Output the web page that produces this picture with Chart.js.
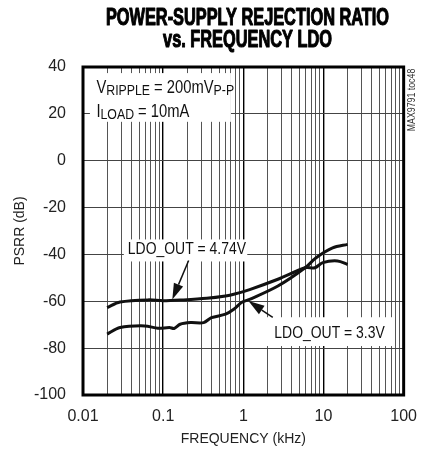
<!DOCTYPE html>
<html>
<head>
<meta charset="utf-8">
<script src="https://cdn.jsdelivr.net/npm/chart.js@4.4.1/dist/chart.umd.min.js"></script>
<style>
  html, body { margin: 0; padding: 0; background: #fff; }
  #wrap { width: 429px; height: 459px; }
</style>
</head>
<body>
<div id="wrap"><canvas id="myChart" width="429" height="459"></canvas></div>
<script>
// values (frequency in kHz, PSRR in dB)
var freq474 = [0.02, 0.029, 0.065, 0.1, 0.18, 0.35, 0.6, 0.76, 1.2, 2.7, 5.9, 7.8, 9.8, 15, 20];
var psrr474 = [-62.7, -60.3, -59.4, -59.8, -59.4, -58.7, -57.7, -57, -55, -50.6, -45.7, -45.7, -43.5, -42.8, -44.3];

var freq33 = [0.02, 0.029, 0.059, 0.086, 0.12, 0.137, 0.163, 0.22, 0.32, 0.4, 0.6, 0.76, 0.96, 1.22, 2.7, 5.9, 8.1, 13, 20];
var psrr33 = [-74, -71.2, -70.5, -71.5, -71.2, -71.6, -69.8, -69.1, -69.1, -67, -65.5, -63.4, -60.4, -59.1, -53.5, -45.7, -41.4, -37.2, -35.7];

var xTickLabels = ['0.01', '0.1', '1', '10', '100'];
var yTickValues = [40, 20, 0, -20, -40, -60, -80, -100];

var FONT = '"Liberation Sans", Arial, sans-serif';
var NARROW = 0.82; // the original uses a condensed face, squeeze our own text to match
Chart.defaults.font.family = FONT;
Chart.defaults.color = '#222';

function toPoints(xs, ys) {
    var pts = [];
    for (var i = 0; i < xs.length; i++) pts.push({x: xs[i], y: ys[i]});
    return pts;
}

function isDecade(v) {
    var l = Math.log10(v);
    return Math.abs(l - Math.round(l)) < 1e-9;
}

// text squeezed horizontally, drawn around (x, y)
function squeezed(ctx, text, x, y, sx, heavy) {
    ctx.save();
    ctx.translate(x, y);
    ctx.scale(sx, 1);
    if (heavy) {
        ctx.lineWidth = heavy;
        ctx.lineJoin = 'round';
        ctx.strokeStyle = ctx.fillStyle;
        ctx.strokeText(text, 0, 0);
    }
    ctx.fillText(text, 0, 0);
    ctx.restore();
}

// text made of runs, some of them subscript
function drawRuns(ctx, runs, x, y) {
    runs.forEach(function(r) {
        ctx.font = r.size + 'px ' + FONT;
        squeezed(ctx, r.t, x, y + (r.dy || 0), NARROW);
        x += ctx.measureText(r.t).width * NARROW;
    });
}

function arrow(ctx, x1, y1, x2, y2) {
    var a = Math.atan2(y2 - y1, x2 - x1);
    var len = 16, w = 5;
    var bx = x2 - Math.cos(a) * len, by = y2 - Math.sin(a) * len;
    ctx.beginPath();
    ctx.moveTo(x1, y1);
    ctx.lineTo(bx, by);
    ctx.lineWidth = 1.5;
    ctx.stroke();
    ctx.beginPath();
    ctx.moveTo(x2, y2);
    ctx.lineTo(bx + Math.sin(a) * w, by - Math.cos(a) * w);
    ctx.lineTo(bx - Math.sin(a) * w, by + Math.cos(a) * w);
    ctx.closePath();
    ctx.fill();
}

var annotations = {
    id: 'annotations',
    beforeDatasetsDraw: function(chart) {
        var ctx = chart.ctx, x = chart.scales.x, y = chart.scales.y;
        function box(f1, f2, d1, d2) {
            var px1 = x.getPixelForValue(f1), px2 = x.getPixelForValue(f2);
            var py1 = y.getPixelForValue(d1), py2 = y.getPixelForValue(d2);
            ctx.fillRect(px1, py1, px2 - px1, py2 - py1);
        }
        ctx.save();
        ctx.fillStyle = '#fff';
        box(0.0122, 0.7, 37.4, 16.6);
        box(0.0323, 1.12, -33.6, -43);
        box(1.95, 73.6, -66.8, -79.1);
        ctx.restore();
    },
    afterDatasetsDraw: function(chart) {
        var ctx = chart.ctx, x = chart.scales.x, y = chart.scales.y;
        var a = chart.chartArea;
        ctx.save();
        ctx.fillStyle = '#111';
        ctx.strokeStyle = '#111';
        ctx.textBaseline = 'alphabetic';
        ctx.textAlign = 'left';

        drawRuns(ctx, [{t: 'V', size: 18}, {t: 'RIPPLE', size: 15, dy: 2}, {t: ' = 200mV', size: 18}, {t: 'P-P', size: 15, dy: 2}],
            x.getPixelForValue(0.0147), y.getPixelForValue(28.9));
        drawRuns(ctx, [{t: 'I', size: 18}, {t: 'LOAD', size: 15, dy: 2}, {t: ' = 10mA', size: 18}],
            x.getPixelForValue(0.0147), y.getPixelForValue(18.7));

        ctx.textAlign = 'center';
        ctx.textBaseline = 'alphabetic';
        ctx.font = '17px ' + FONT;
        squeezed(ctx, 'LDO_OUT = 4.74V', x.getPixelForValue(0.198), y.getPixelForValue(-40), NARROW);
        squeezed(ctx, 'LDO_OUT = 3.3V', x.getPixelForValue(11.9), y.getPixelForValue(-75.8), NARROW);

        arrow(ctx, x.getPixelForValue(0.208), y.getPixelForValue(-42.6), x.getPixelForValue(0.13), y.getPixelForValue(-59.2));
        arrow(ctx, x.getPixelForValue(2.33), y.getPixelForValue(-66.9), x.getPixelForValue(1.16), y.getPixelForValue(-59.9));

        // plot frame
        ctx.lineWidth = 3;
        ctx.strokeStyle = '#000';
        ctx.strokeRect(a.left, a.top, a.right - a.left, a.bottom - a.top);

        // figure id, rotated
        ctx.save();
        ctx.translate(a.right + 9, a.top + 33);
        ctx.rotate(-Math.PI / 2);
        ctx.textBaseline = 'middle';
        ctx.font = '10px ' + FONT;
        ctx.fillStyle = '#333';
        squeezed(ctx, 'MAX9791 toc48', 0, 0, 0.88);
        ctx.restore();

        // title, heavy and condensed
        ctx.fillStyle = '#000';
        ctx.textBaseline = 'alphabetic';
        ctx.textAlign = 'center';
        ctx.font = 'bold 23px ' + FONT;
        squeezed(ctx, 'POWER-SUPPLY REJECTION RATIO', 247.5, 25, 0.71, 1.1);
        squeezed(ctx, 'vs. FREQUENCY LDO', 247.5, 47, 0.71, 1.1);
        ctx.restore();
    }
};

var ctx = document.getElementById('myChart').getContext('2d');
var chart = new Chart(ctx, {
    type: 'line',
    data: {
        datasets: [
            {
                label: 'LDO_OUT = 4.74V',
                data: toPoints(freq474, psrr474),
                borderColor: '#111',
                borderWidth: 3,
                pointRadius: 0,
                tension: 0.3,
                fill: false
            },
            {
                label: 'LDO_OUT = 3.3V',
                data: toPoints(freq33, psrr33),
                borderColor: '#111',
                borderWidth: 3,
                pointRadius: 0,
                tension: 0.3,
                fill: false
            }
        ]
    },
    options: {
        responsive: false,
        animation: false,
        devicePixelRatio: 1,
        layout: { padding: { top: 67, right: 16, left: 0, bottom: 0 } },
        plugins: {
            legend: { display: false },
            tooltip: { enabled: false }
        },
        scales: {
            x: {
                type: 'logarithmic',
                min: 0.01,
                max: 100,
                afterBuildTicks: function(scale) {
                    var ticks = [];
                    for (var e = -2; e < 2; e++) {
                        for (var m = 1; m < 10; m++) {
                            ticks.push({value: Number((m * Math.pow(10, e)).toPrecision(3))});
                        }
                    }
                    ticks.push({value: 100});
                    scale.ticks = ticks;
                },
                afterFit: function(scale) { scale.height = 64; },
                ticks: {
                    autoSkip: false,
                    maxRotation: 0,
                    padding: 12,
                    font: { size: 16 },
                    callback: function(v) {
                        return isDecade(v) ? xTickLabels[Math.round(Math.log10(v)) + 2] : '';
                    }
                },
                grid: {
                    drawTicks: false,
                    color: function(c) { return c.tick && isDecade(c.tick.value) ? '#000' : '#555'; },
                    lineWidth: function(c) { return c.tick && isDecade(c.tick.value) ? 1.4 : 1; }
                },
                border: { display: false },
                title: {
                    display: true,
                    text: 'FREQUENCY (kHz)',
                    font: { size: 14 },
                    padding: { top: 0, bottom: 11 }
                }
            },
            y: {
                min: -100,
                max: 40,
                afterBuildTicks: function(scale) {
                    scale.ticks = yTickValues.map(function(v) { return {value: v}; });
                },
                afterFit: function(scale) { scale.width = 83; },
                ticks: {
                    padding: 17,
                    font: { size: 16 }
                },
                grid: {
                    drawTicks: false,
                    color: '#444',
                    lineWidth: 1
                },
                border: { display: false },
                title: {
                    display: true,
                    text: 'PSRR (dB)',
                    font: { size: 14 },
                    padding: { top: 12, bottom: 0 }
                }
            }
        }
    },
    plugins: [annotations]
});
</script>
</body>
</html>
